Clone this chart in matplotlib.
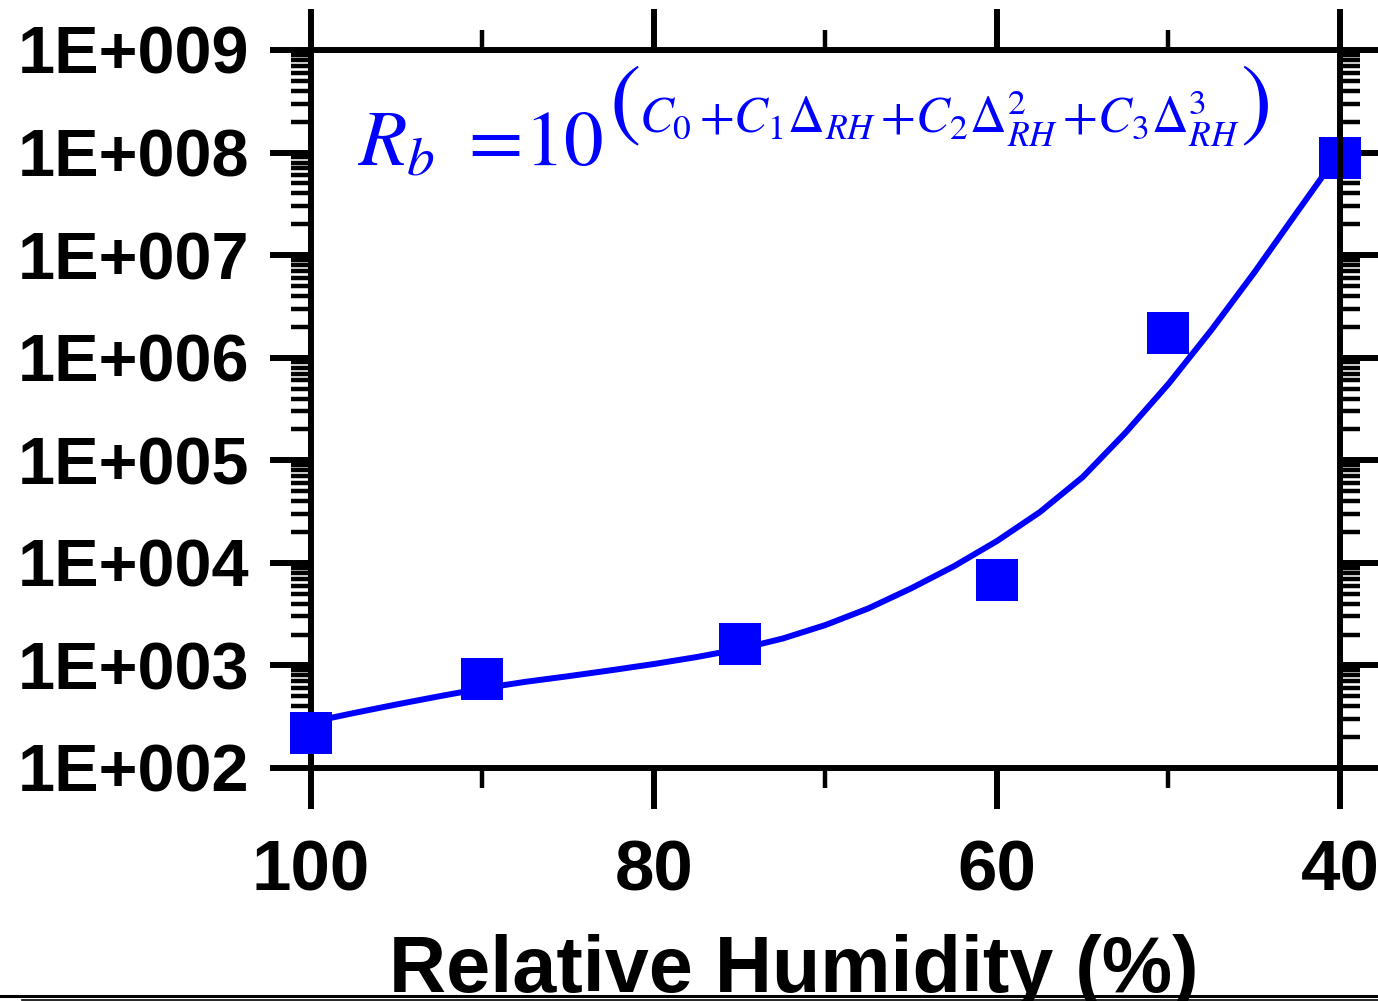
import matplotlib
matplotlib.use("Agg")
import matplotlib.pyplot as plt
import numpy as np
from matplotlib.lines import Line2D
from matplotlib.ticker import FixedLocator, FixedFormatter, LogLocator, NullFormatter

# measured resistance vs relative humidity
rh_points = [100, 90, 75, 60, 50, 40]
rb_points = [2.2e2, 7.4e2, 1.6e3, 6.8e3, 1.75e6, 8.9e7]

# fitted curve, log10(Rb) along RH
curve_rh = [100, 97.5, 95, 92.5, 90, 87.5, 85, 82.5, 80, 77.5, 75, 72.5, 70,
            67.5, 65, 62.5, 60, 57.5, 55, 52.5, 50, 47.5, 45, 42.5, 40]
curve_log_rb = [2.448, 2.536, 2.620, 2.700, 2.776, 2.840, 2.895, 2.953, 3.014,
                3.082, 3.160, 3.262, 3.394, 3.556, 3.752, 3.968, 4.213, 4.495,
                4.837, 5.270, 5.745, 6.270, 6.830, 7.420, 8.006]

x_major = [100, 80, 60, 40]
x_minor = [90, 70, 50]
x_tick_labels = ["100", "80", "60", "40"]
y_major = [1e2, 1e3, 1e4, 1e5, 1e6, 1e7, 1e8, 1e9]
y_tick_labels = ["1E+002", "1E+003", "1E+004", "1E+005",
                 "1E+006", "1E+007", "1E+008", "1E+009"]

plt.rcParams["font.family"] = ["Liberation Sans", "DejaVu Sans"]
plt.rcParams["mathtext.fontset"] = "stix"

BLUE = "#0000FF"
fig = plt.figure(figsize=(13.78, 10.01), dpi=100)
ax = fig.add_axes([0.22569, 0.23277, 0.74673, 0.71728])

ax.set_yscale("log")
ax.set_xlim(100, 40)
ax.set_ylim(1e2, 1e9)

ax.plot(curve_rh, 10 ** np.array(curve_log_rb), color=BLUE, lw=4.3,
        solid_capstyle="butt", solid_joinstyle="round", zorder=2)
# interior squares sit above the frame, the last one below it
ax.plot(rh_points[:-1], rb_points[:-1], "s", color=BLUE, ms=30.5, mew=0,
        zorder=3, clip_on=False)
ax.plot(rh_points[-1:], rb_points[-1:], "s", color=BLUE, ms=30.5, mew=0,
        zorder=2, clip_on=False)

for s in ax.spines.values():
    s.set_linewidth(4.3)
    s.set_zorder(2.5)

ax.xaxis.set_major_locator(FixedLocator(x_major))
ax.xaxis.set_major_formatter(FixedFormatter(x_tick_labels))
ax.xaxis.set_minor_locator(FixedLocator(x_minor))
ax.yaxis.set_major_locator(FixedLocator(y_major))
ax.yaxis.set_major_formatter(FixedFormatter(y_tick_labels))
ax.yaxis.set_minor_locator(LogLocator(base=10, subs=np.arange(2, 10), numticks=20))
ax.yaxis.set_minor_formatter(NullFormatter())

ax.tick_params(which="both", direction="out", top=True, right=True,
               labeltop=False, labelright=False)
ax.tick_params(which="major", length=29.5, width=4.3)
ax.tick_params(which="minor", length=14.4, width=3.2)
ax.tick_params(axis="y", which="major", pad=15, labelsize=48)
ax.tick_params(axis="x", which="major", pad=22, labelsize=51)
for lab in ax.get_xticklabels() + ax.get_yticklabels():
    lab.set_fontweight("bold")

# fit equation: base part, then a parenthesised exponent set after it
renderer = fig.canvas.get_renderer()
to_axes = ax.transAxes.inverted()


def place_after(prev, dx_px, y, s, **kw):
    bb = prev.get_window_extent(renderer)
    x = to_axes.transform((bb.x1 + dx_px, 0))[0]
    return ax.text(x, y, s, transform=ax.transAxes, ha="left", color=BLUE, **kw)


base = ax.text(0.045, 0.84, r"$R_b\,\,=\!10$", transform=ax.transAxes,
               ha="left", va="baseline", fontsize=57, color=BLUE)
lpar = place_after(base, 6, 0.922, "(", va="center", fontsize=68,
                   family=["STIXGeneral", "DejaVu Serif"])
body = place_after(lpar, -2, 0.884,
                   r"$C_0\,{+}C_1\Delta_{RH}\,{+}C_2\Delta^{2}_{RH}\,{+}C_3\Delta^{3}_{RH}$",
                   va="baseline", fontsize=36.5)
rpar = place_after(body, 0, 0.922, ")", va="center", fontsize=68,
                   family=["STIXGeneral", "DejaVu Serif"])

fig.text(0.576, 0.009, "Relative Humidity (%)", ha="center", va="baseline",
         fontsize=57, fontweight="bold")

# rule lines along the lower edge
fig.add_artist(Line2D([0, 1], [1 - 996 / 1001] * 2, transform=fig.transFigure,
                      color="black", lw=2.2))
fig.add_artist(Line2D([22 / 1378, 1], [1 - 1000 / 1001] * 2,
                      transform=fig.transFigure, color="black", lw=1.2))

fig.savefig("out.png", dpi=100)
